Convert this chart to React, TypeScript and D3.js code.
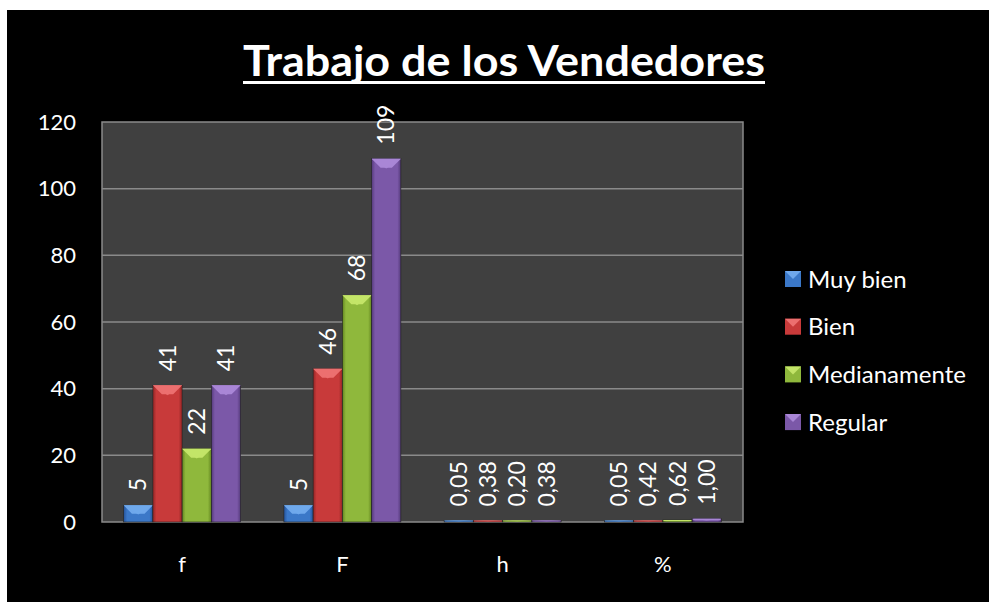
import React from 'react';
import * as d3 from 'd3';

const categories = ['f', 'F', 'h', '%'];
const seriesNames = ['Muy bien', 'Bien', 'Medianamente', 'Regular'];
const muyBien = [5, 5, 0.05, 0.05];
const bien = [41, 46, 0.38, 0.42];
const medianamente = [22, 68, 0.2, 0.62];
const regular = [41, 109, 0.38, 1.0];
const yTicks = [0, 20, 40, 60, 80, 100, 120];
const title = 'Trabajo de los Vendedores';

const seriesValues = [muyBien, bien, medianamente, regular];
// base, light, dark
const palette = [
  ['#3b78c8', '#6fa8ec', '#25539a'],
  ['#c83a3a', '#ec6f6f', '#932525'],
  ['#8fb83c', '#c3e468', '#62851f'],
  ['#7b58a8', '#a986d6', '#553a7c'],
];

const W = 989;
const H = 602;
const plot = { left: 102, top: 122, right: 743, bottom: 522 };
const font = 'Lato, "Open Sans", sans-serif';

function fmt(v: number, ci: number) {
  return ci < 2 ? String(v) : v.toFixed(2).replace('.', ',');
}

export default function App() {
  const x = d3.scaleBand<string>().domain(categories).range([plot.left, plot.right]).paddingInner(0.27).paddingOuter(0.135);
  const xs = d3.scaleBand<string>().domain(seriesNames).range([0, x.bandwidth()]);
  const y = d3.scaleLinear().domain([0, 120]).range([plot.bottom, plot.top]);
  const step = x.step();

  return (
    <svg width={W} height={H} style={{ position: 'absolute', left: 0, top: 0, display: 'block' }}>
      <defs>
        {palette.map((c, i) => (
          <linearGradient key={i} id={`g${i}`} x1="0" x2="1" y1="0" y2="0">
            <stop offset="0" stopColor={c[2]} />
            <stop offset="0.12" stopColor={c[0]} />
            <stop offset="0.88" stopColor={c[0]} />
            <stop offset="1" stopColor={c[2]} />
          </linearGradient>
        ))}
      </defs>
      <rect x={0} y={0} width={W} height={H} fill="#ffffff" />
      <rect x={7} y={10} width={W - 7} height={H - 10} fill="#000000" />

      <text x={504} y={76} textAnchor="middle" fill="#ffffff" fontFamily={font} fontWeight="bold" fontSize={42} textLength={522} lengthAdjust="spacingAndGlyphs">
        {title}
      </text>
      <rect x={243} y={81} width={522} height={3} fill="#ffffff" />

      <rect x={plot.left} y={plot.top} width={plot.right - plot.left} height={plot.bottom - plot.top} fill="#404040" stroke="#8a8a8a" strokeWidth={1.5} />
      {yTicks.slice(1, -1).map(t => (
        <line key={t} x1={plot.left} x2={plot.right} y1={y(t)} y2={y(t)} stroke="#8a8a8a" strokeWidth={1.5} />
      ))}
      {yTicks.map(t => (
        <text key={t} x={76} y={y(t)} dy="0.35em" textAnchor="end" fill="#ffffff" fontFamily={font} fontSize={22}>
          {t}
        </text>
      ))}
      {categories.map((c, ci) => (
        <text key={c} x={plot.left + step * ci + step / 2} y={572} textAnchor="middle" fill="#ffffff" fontFamily={font} fontSize={22}>
          {c}
        </text>
      ))}

      {categories.map((c, ci) => (
        <g key={c}>
          {seriesNames.map((s, si) => {
            const v = seriesValues[si][ci];
            const bx = (x(c) as number) + (xs(s) as number);
            const bw = xs.bandwidth();
            const top = y(v);
            const bh = Math.max(y(0) - top, 1.5);
            const bev = Math.min(9, bh / 2);
            const col = palette[si];
            return (
              <g key={s}>
                <rect x={bx} y={y(0) - bh} width={bw} height={bh} fill={`url(#g${si})`} stroke="#222" strokeWidth={0.6} />
                <polygon points={`${bx},${y(0) - bh} ${bx + bw},${y(0) - bh} ${bx + bw - bev},${y(0) - bh + bev} ${bx + bev},${y(0) - bh + bev}`} fill={col[1]} />
                <polygon points={`${bx},${y(0) - bh} ${bx + bw / 2},${y(0) - bh + bev * 1.1} ${bx + bw},${y(0) - bh}`} fill={col[1]} opacity={0.9} />
                <text
                  transform={`translate(${bx + bw / 2},${y(0) - bh - 14}) rotate(-90)`}
                  dy="0.35em"
                  textAnchor="start"
                  fill="#ffffff"
                  fontFamily={font}
                  fontSize={23}
                >
                  {fmt(v, ci)}
                </text>
              </g>
            );
          })}
        </g>
      ))}

      {seriesNames.map((s, si) => {
        const cy = 279 + si * 47.7;
        const col = palette[si];
        return (
          <g key={s}>
            <rect x={785} y={cy - 8} width={16} height={16} fill={col[0]} />
            <polygon points={`${785},${cy - 8} ${801},${cy - 8} ${793},${cy}`} fill={col[1]} />
            <text x={808} y={cy} dy="0.36em" fill="#ffffff" fontFamily={font} fontSize={24}>
              {s}
            </text>
          </g>
        );
      })}
    </svg>
  );
}
